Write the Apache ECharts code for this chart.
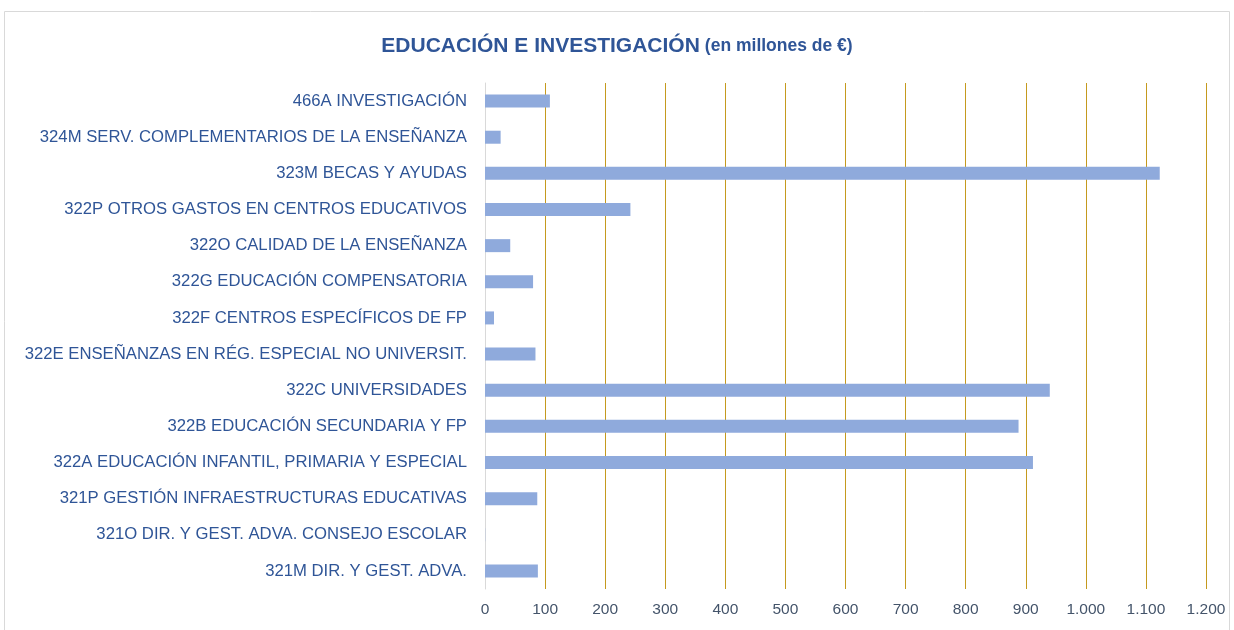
<!DOCTYPE html>
<html>
<head>
<meta charset="utf-8">
<script src="https://cdn.jsdelivr.net/npm/echarts@6/dist/echarts.min.js"></script>
<style>
  html, body { margin: 0; padding: 0; background: #fff; }
  #main { width: 1234px; height: 630px; }
</style>
</head>
<body>
<div id="main"></div>
<script>
// categorías de abajo a arriba (eje Y)
var categories = [
  '321M DIR. Y GEST. ADVA.',
  '321O DIR. Y GEST. ADVA. CONSEJO ESCOLAR',
  '321P GESTIÓN INFRAESTRUCTURAS EDUCATIVAS',
  '322A EDUCACIÓN INFANTIL, PRIMARIA Y ESPECIAL',
  '322B EDUCACIÓN SECUNDARIA Y FP',
  '322C UNIVERSIDADES',
  '322E ENSEÑANZAS EN RÉG. ESPECIAL NO UNIVERSIT.',
  '322F CENTROS ESPECÍFICOS DE FP',
  '322G EDUCACIÓN COMPENSATORIA',
  '322O CALIDAD DE LA ENSEÑANZA',
  '322P OTROS GASTOS EN CENTROS EDUCATIVOS',
  '323M BECAS Y AYUDAS',
  '324M SERV. COMPLEMENTARIOS DE LA ENSEÑANZA',
  '466A INVESTIGACIÓN'
];
// millones de euros
var values = [88, 0.3, 87, 912, 888, 940, 84, 15, 80, 42, 242, 1123, 26, 108];

var myChart = echarts.init(document.getElementById('main'));

function fmt(v) {
  return String(v).replace(/\B(?=(\d{3})+(?!\d))/g, '.');
}

myChart.setOption({
  animation: false,
  graphic: [{
    type: 'rect',
    shape: { x: 4.5, y: 11.5, width: 1225, height: 640 },
    style: { fill: 'none', stroke: '#D9D9D9', lineWidth: 1 }
  }],
  title: {
    text: '{a|EDUCACIÓN E INVESTIGACIÓN} {b|(en millones de €)}',
    left: 'center',
    top: 31,
    textStyle: {
      rich: {
        a: { fontFamily: 'Liberation Sans', fontSize: 21, fontWeight: 'bold', color: '#2F5597' },
        b: { fontFamily: 'Liberation Sans', fontSize: 17.5, fontWeight: 'bold', color: '#2F5597' }
      }
    }
  },
  grid: { left: 485, right: 28, top: 83, bottom: 41 },
  xAxis: {
    type: 'value',
    min: 0,
    max: 1200,
    interval: 100,
    axisLine: { show: false },
    axisTick: { show: false },
    splitLine: { lineStyle: { color: '#C59A1E', width: 1 } },
    axisLabel: {
      margin: 13,
      fontFamily: 'Liberation Sans',
      fontSize: 15.5,
      color: '#44546A',
      formatter: fmt
    }
  },
  yAxis: {
    type: 'category',
    data: categories,
    axisLine: { show: true, lineStyle: { color: '#D9D9D9' } },
    axisTick: { show: false },
    axisLabel: {
      margin: 18,
      fontFamily: 'Liberation Sans',
      fontSize: 16.7,
      color: '#2F5597'
    }
  },
  series: [{
    type: 'bar',
    data: values,
    barWidth: 13,
    itemStyle: { color: '#8FAADC' }
  }]
});
</script>
</body>
</html>
